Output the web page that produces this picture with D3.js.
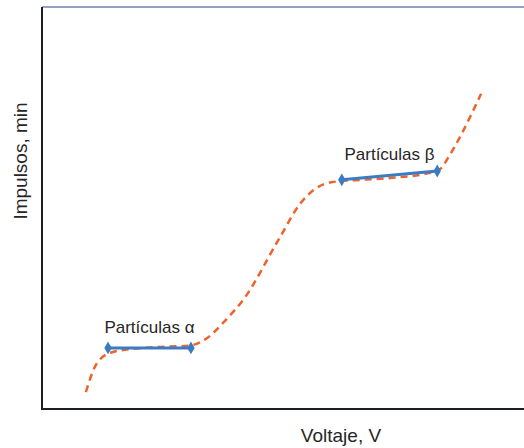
<!DOCTYPE html>
<html><head><meta charset="utf-8">
<script src="https://cdn.jsdelivr.net/npm/d3@7"></script>
<style>html,body{margin:0;padding:0;background:#fff;}svg{display:block;}</style>
</head><body>
<script>
// Data (arbitrary units)
const curveX = [9.1,11.4,14.7,22.4,30.7,34.2,38.0,41.7,49.4,53.5,56.5,60.0,66.0,73.7,79.5,82.5,84.5,87.0,89.2,91.1];
const curveY = [4.2,11.4,14.2,15.3,15.8,17.6,22.0,27.1,42.8,51.0,54.6,56.4,57.0,57.6,58.5,59.6,63.0,68.3,73.6,78.4];
const alphaX = [13.7, 30.9];
const alphaY = [15.2, 15.2];
const betaX = [62.2, 82.0];
const betaY = [57.0, 59.2];
const labels = ["Partículas α", "Partículas β"];
const xTitle = "Voltaje, V";
const yTitle = "Impulsos, min";

const W = 524, H = 448;
const svg = d3.select("body").append("svg").attr("width", W).attr("height", H);
const x = d3.scaleLinear().domain([0, 100]).range([42, 524]);
const y = d3.scaleLinear().domain([0, 100]).range([409, 7]);

// top border
svg.append("line").attr("x1", 42).attr("x2", W).attr("y1", 7).attr("y2", 7)
  .attr("stroke", "#6f86a8").attr("stroke-width", 1.5);

// axes
svg.append("line").attr("x1", 42).attr("x2", 42).attr("y1", 7).attr("y2", 409.5)
  .attr("stroke", "#1c1f26").attr("stroke-width", 2);
svg.append("line").attr("x1", 41).attr("x2", W).attr("y1", 409).attr("y2", 409)
  .attr("stroke", "#1c1f26").attr("stroke-width", 2);

// dashed curve
const pts = curveX.map((v, i) => [v, curveY[i]]);
const line = d3.line().x(d => x(d[0])).y(d => y(d[1])).curve(d3.curveMonotoneX);
svg.append("path").attr("d", line(pts)).attr("fill", "none")
  .attr("stroke", "#f0622b").attr("stroke-width", 2.5)
  .attr("stroke-dasharray", "7,5");

// segments
const segs = [[alphaX, alphaY], [betaX, betaY]];
segs.forEach((s, k) => {
  const p = s[0].map((v, i) => [v, s[1][i]]);
  svg.append("path").attr("d", d3.line().x(d => x(d[0])).y(d => y(d[1]))(p))
    .attr("fill", "none").attr("stroke", "#3a7bc4").attr("stroke-width", 3);
  p.forEach(d => {
    svg.append("path").attr("d", d3.symbol(d3.symbolDiamond, 48)())
      .attr("transform", `translate(${x(d[0])},${y(d[1])})`)
      .attr("fill", "#3a7bc4");
  });
  const mx = (x(p[0][0]) + x(p[1][0])) / 2, my = (y(p[0][1]) + y(p[1][1])) / 2;
  svg.append("text").attr("x", mx).attr("y", my - 15).attr("text-anchor", "middle")
    .attr("font-family", "Liberation Sans, Arial, sans-serif").attr("font-size", 17)
    .attr("fill", "#262626").text(labels[k]);
});

// axis titles
svg.append("text").attr("x", 341).attr("y", 442).attr("text-anchor", "middle")
  .attr("font-family", "Liberation Sans, Arial, sans-serif").attr("font-size", 19)
  .attr("fill", "#262626").text(xTitle);
svg.append("text").attr("transform", "translate(27,161) rotate(-90)").attr("text-anchor", "middle")
  .attr("font-family", "Liberation Sans, Arial, sans-serif").attr("font-size", 19)
  .attr("fill", "#262626").text(yTitle);
</script>
</body></html>
